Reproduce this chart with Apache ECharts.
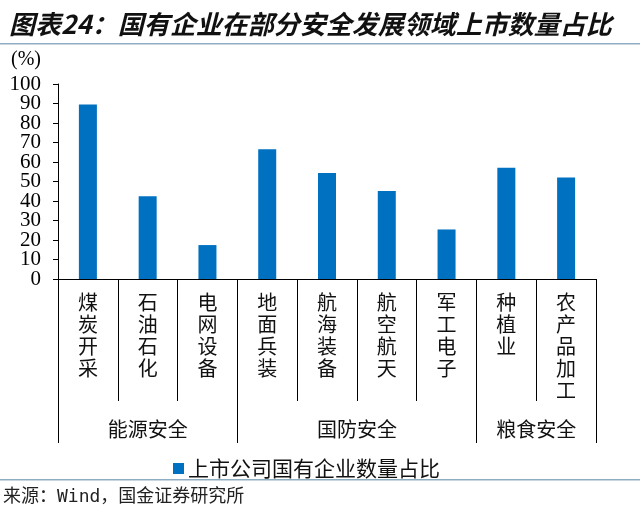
<!DOCTYPE html>
<html>
<head>
<meta charset="utf-8">
<script src="https://cdn.jsdelivr.net/npm/echarts@6/dist/echarts.min.js"></script>
<style>html,body{margin:0;padding:0;background:#fff;}#c{width:640px;height:518px;}</style>
</head>
<body>
<div id="c"></div>
<script>
const categories = ['煤炭开采','石油石化','电网设备','地面兵装','航海装备','航空航天','军工电子','种植业','农产品加工'];
const values = [89.5, 42.5, 17.4, 66.6, 54.4, 45.1, 25.4, 57.1, 52.0];
const groupNames = ['能源安全','国防安全','粮食安全'];
const groupSizes = [3, 4, 2];
const yTicks = [0, 10, 20, 30, 40, 50, 60, 70, 80, 90, 100];
const seriesName = '上市公司国有企业数量占比';
const titleText = '图表24：国有企业在部分安全发展领域上市数量占比';
const sourceText = '来源：Wind，国金证券研究所';
const unitText = '(%)';

const boundaries = [0];
groupSizes.forEach(s => boundaries.push(boundaries[boundaries.length - 1] + s));
const centers = groupSizes.map((s, i) => boundaries[i] + s / 2);
const yEven = yTicks.filter((v, i) => i % 2 === 0);
const yOdd = yTicks.filter((v, i) => i % 2 === 1);

const cjk = "'Noto Sans CJK SC', sans-serif";
const serif = "'Liberation Serif', 'DejaVu Serif', serif";

const yLabelStyle = { margin: 17, fontSize: 21, color: '#000', fontFamily: serif, showMinLabel: true, showMaxLabel: true };

const chart = echarts.init(document.getElementById('c'));
chart.setOption({
  animation: false,
  backgroundColor: '#fff',
  title: {
    text: titleText, left: 4, top: 6,
    textStyle: { fontSize: 26, fontWeight: 'bold', fontStyle: 'italic', color: '#111', fontFamily: cjk }
  },
  grid: { left: 58, right: 44, top: 84, bottom: 239 },
  legend: {
    left: 168, top: 453, itemWidth: 11, itemHeight: 11, icon: 'rect', itemGap: 5,
    textStyle: { fontSize: 21, color: '#111', fontFamily: cjk, padding: [0, 0, 0, -1] },
    data: [seriesName]
  },
  xAxis: [{
    type: 'category', data: categories, boundaryGap: true,
    axisLine: { lineStyle: { color: '#000', width: 1 } },
    axisTick: { show: true, interval: 0, length: 122, lineStyle: { color: '#000' } },
    axisLabel: {
      interval: 0, margin: 12, fontSize: 20, lineHeight: 22, color: '#111', fontFamily: cjk,
      formatter: v => v.split('').join('\n')
    }
  }, {
    type: 'value', min: 0, max: 9, position: 'bottom',
    axisLine: { show: false }, splitLine: { show: false },
    axisTick: { show: true, customValues: boundaries, length: 164, lineStyle: { color: '#000' } },
    axisLabel: {
      customValues: centers, margin: 140, fontSize: 20, color: '#111', fontFamily: cjk,
      showMinLabel: true, showMaxLabel: true,
      formatter: v => { const i = centers.indexOf(v); return i >= 0 ? groupNames[i] : ''; }
    }
  }],
  yAxis: [{
    type: 'value', min: yTicks[0], max: yTicks[yTicks.length - 1], interval: 10, position: 'left',
    axisLine: { show: true, lineStyle: { color: '#000' } },
    axisTick: { show: true, length: 5, lineStyle: { color: '#000' } },
    splitLine: { show: false },
    axisLabel: Object.assign({ customValues: yEven }, yLabelStyle)
  }, {
    type: 'value', min: yTicks[0], max: yTicks[yTicks.length - 1], interval: 10, position: 'left',
    axisLine: { show: false }, axisTick: { show: false }, splitLine: { show: false },
    axisLabel: Object.assign({ customValues: yOdd }, yLabelStyle)
  }],
  series: [{
    name: seriesName, type: 'bar', data: values, barWidth: 18, xAxisIndex: 0, yAxisIndex: 0,
    itemStyle: { color: '#0070C0' }
  }],
  graphic: [
    { type: 'rect', shape: { x: 0, y: 43, width: 640, height: 1.5 }, style: { fill: '#8fadc2' } },
    { type: 'rect', shape: { x: 0, y: 479, width: 640, height: 1.5 }, style: { fill: '#8fadc2' } },
    { type: 'text', left: 11, top: 50, style: { text: unitText, fontSize: 20, fill: '#000', fontFamily: serif } },
    { type: 'text', left: 3, top: 488, style: { text: sourceText, fontSize: 18, fill: '#222', fontFamily: "'DejaVu Sans Mono', 'Noto Sans CJK SC', monospace" } }
  ]
});
</script>
</body>
</html>
